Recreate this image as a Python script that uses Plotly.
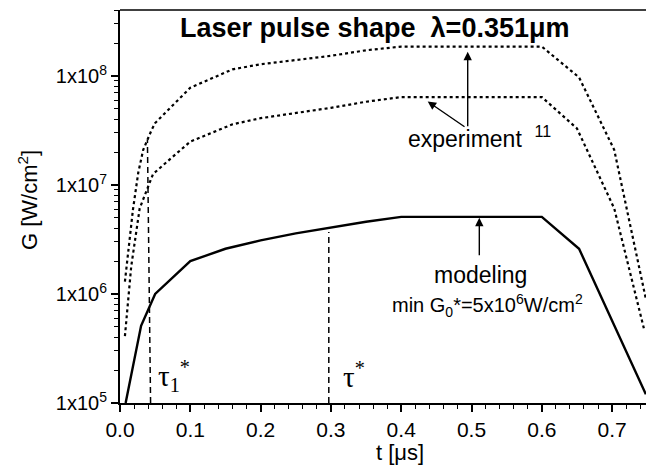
import plotly.graph_objects as go

# ---------------- data ----------------
t_model = [0.008, 0.03, 0.05, 0.1, 0.15, 0.2, 0.25, 0.3, 0.35, 0.4, 0.6, 0.653, 0.748]
G_model = [1.0e5, 5.1e5, 1.0e6, 2.0e6, 2.6e6, 3.1e6, 3.6e6, 4.1e6, 4.6e6, 5.1e6, 5.1e6, 2.6e6, 1.2e5]

t_exp_high = [0.007, 0.0185, 0.026, 0.033, 0.045, 0.05, 0.1, 0.16, 0.2, 0.3, 0.35, 0.4, 0.6, 0.653, 0.703, 0.748]
G_exp_high = [1.3e6, 6.0e6, 1.3e7, 2.1e7, 3.2e7, 3.7e7, 7.8e7, 1.15e8, 1.28e8, 1.53e8, 1.72e8, 1.86e8, 1.86e8, 9.7e7, 2.1e7, 9.0e5]

t_exp_low = [0.007, 0.016, 0.028, 0.04, 0.047, 0.07, 0.1, 0.16, 0.2, 0.3, 0.35, 0.4, 0.6, 0.65, 0.703, 0.746]
G_exp_low = [4.1e5, 1.8e6, 6.1e6, 9.7e6, 1.26e7, 1.7e7, 2.5e7, 3.6e7, 4.1e7, 5.1e7, 5.8e7, 6.4e7, 6.4e7, 3.3e7, 6.1e6, 4.6e5]

t_tau1 = [0.0435, 0.039]
G_tau1 = [1.0e5, 2.6e7]
t_tau = [0.297, 0.297]
G_tau = [1.0e5, 3.7e6]

x_tick_vals = [0.0, 0.1, 0.2, 0.3, 0.4, 0.5, 0.6, 0.7]
x_tick_text = ["0.0", "0.1", "0.2", "0.3", "0.4", "0.5", "0.6", "0.7"]
y_tick_vals = [1e5, 1e6, 1e7, 1e8]
y_tick_text = ["1x10<sup>5</sup>", "1x10<sup>6</sup>", "1x10<sup>7</sup>", "1x10<sup>8</sup>"]

# ---------------- figure ----------------
SANS = "Liberation Sans, Arial, sans-serif"
SERIF = "Liberation Serif, Times New Roman, serif"

fig = go.Figure()
fig.add_trace(go.Scatter(x=t_exp_high, y=G_exp_high, mode="lines",
                         line=dict(color="black", width=2.2, dash="3px,3px")))
fig.add_trace(go.Scatter(x=t_exp_low, y=G_exp_low, mode="lines",
                         line=dict(color="black", width=2.2, dash="3px,3px")))
fig.add_trace(go.Scatter(x=t_model, y=G_model, mode="lines",
                         line=dict(color="black", width=2.4)))
fig.add_trace(go.Scatter(x=t_tau1, y=G_tau1, mode="lines",
                         line=dict(color="black", width=1.5, dash="6px,4px")))
fig.add_trace(go.Scatter(x=t_tau, y=G_tau, mode="lines",
                         line=dict(color="black", width=1.5, dash="6px,4px")))

W, H = 646, 468
L, R, T, B = 120, 0, 10, 65
pw, ph = W - L - R, H - T - B


def px(xp):
    return (xp - L) / pw


def py(yp):
    return (H - B - yp) / ph


annotations = [
    dict(text="<b>Laser pulse shape  λ=0.351μm</b>", x=px(374), y=py(28),
         font=dict(size=27, family=SANS)),
    dict(text="experiment&nbsp;&nbsp;<sup>11</sup>", x=px(406), y=py(137), xanchor="left",
         font=dict(size=23, family=SANS)),
    dict(text="modeling", x=px(480), y=py(275),
         font=dict(size=23, family=SANS)),
    dict(text="min G<sub>0</sub>*=5x10<sup>6</sup>W/cm<sup>2</sup>", x=px(487), y=py(305),
         font=dict(size=20, family=SANS)),
    dict(text="τ<sub>1</sub><sup>*</sup>", x=px(156), y=py(376), xanchor="left",
         font=dict(size=29, family=SERIF)),
    dict(text="τ<sup>*</sup>", x=px(341), y=py(375), xanchor="left",
         font=dict(size=29, family=SERIF)),
    dict(text="G [W/cm<sup>2</sup>]", x=px(28), y=py(200), textangle=-90,
         font=dict(size=22, family=SANS)),
    dict(text="t [μs]", x=px(400), y=py(452),
         font=dict(size=22, family=SANS)),
]
for a in annotations:
    a.setdefault("xanchor", "center")
    a.update(xref="paper", yref="paper", yanchor="middle", showarrow=False)
    a["font"]["color"] = "black"


def lg(pixel_y):
    return 5 + (403.3 - pixel_y) / 109.05


def tx(pixel_x):
    return (pixel_x - 120) / 703.0


arrows = [
    (tx(467.7), lg(52), tx(467.7), lg(128)),
    (tx(427.7), lg(101.7), tx(466), lg(128)),
    (tx(479.3), lg(218), tx(479.3), lg(257)),
]
for (hx, hy, ax_, ay_) in arrows:
    annotations.append(dict(x=hx, y=hy, ax=ax_, ay=ay_, xref="x", yref="y",
                            axref="x", ayref="y", text="", showarrow=True,
                            arrowhead=2, arrowsize=1.2, arrowwidth=1.4,
                            arrowcolor="black"))

fig.update_layout(
    width=W, height=H,
    margin=dict(l=L, r=R, t=T, b=B),
    paper_bgcolor="white", plot_bgcolor="white",
    showlegend=False,
    font=dict(family=SANS, color="black"),
    annotations=annotations,
    shapes=[dict(type="line", xref="paper", yref="paper", x0=0, x1=1, y0=1, y1=1,
                 line=dict(color="black", width=1.5))],
    xaxis=dict(range=[0, 0.7482], tickvals=x_tick_vals, ticktext=x_tick_text,
               showgrid=False, zeroline=False, showline=True, linecolor="black",
               linewidth=2, ticks="outside", ticklen=7, tickwidth=1.5,
               tickcolor="black", tickfont=dict(size=21, family=SANS),
               ticklabelstandoff=0,
               minor=dict(dtick=0.02, ticks="outside", ticklen=4, tickwidth=1.2,
                          tickcolor="black", showgrid=False)),
    yaxis=dict(type="log", range=[5, 8.605], tickvals=y_tick_vals, ticktext=y_tick_text,
               showgrid=False, zeroline=False, showline=True, linecolor="black",
               linewidth=2, ticks="outside", ticklen=7, tickwidth=1.5,
               tickcolor="black", tickfont=dict(size=20, family=SANS),
               minor=dict(dtick="D1", ticks="outside", ticklen=4, tickwidth=1.2,
                          tickcolor="black", showgrid=False)),
)

fig.write_html("out.html", config={"displayModeBar": False},
               post_script="document.body.style.margin='0';document.body.style.overflow='hidden';")
